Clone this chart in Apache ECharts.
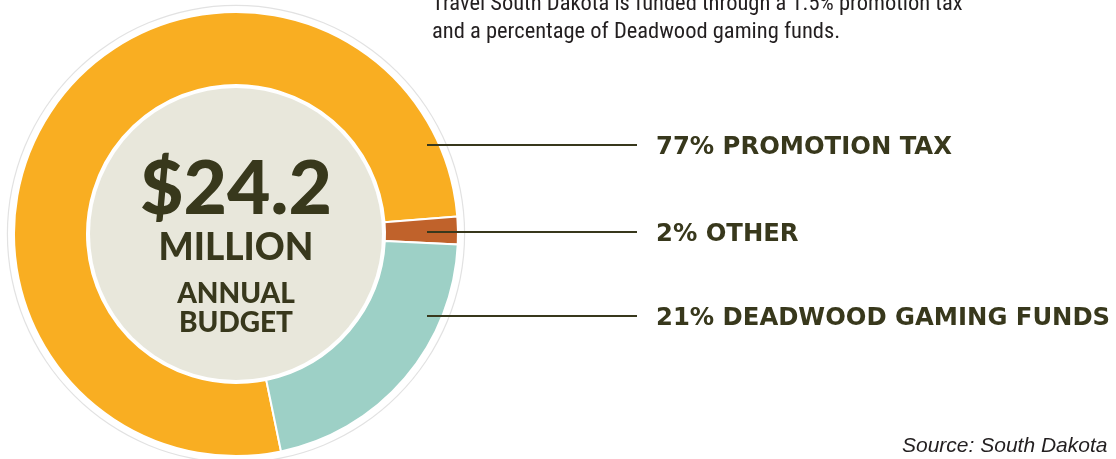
<!DOCTYPE html>
<html>
<head>
<meta charset="utf-8">
<style>
  html, body { margin: 0; padding: 0; background: #ffffff; }
  #chart { width: 1116px; height: 459px; }
</style>
<script src="https://cdn.jsdelivr.net/npm/echarts@6/dist/echarts.min.js"></script>
</head>
<body>
<div id="chart"></div>
<script>
// ---- data ----
const categories = ['PROMOTION TAX', 'OTHER', 'DEADWOOD GAMING FUNDS'];
const shares = [77, 2, 21];
const colors = ['#F9AE22', '#C0622B', '#9DD0C6'];
const labelRows = [145, 232, 316];
const totalText = '$24.2';
const totalUnit = 'MILLION';
const totalCaption = ['ANNUAL', 'BUDGET'];
const introLines = [
  'Travel South Dakota is funded through a 1.5% promotion tax',
  'and a percentage of Deadwood gaming funds.'
];
const sourceText = 'Source: South Dakota';

const ink = '#38381C';
const centerFont = 'Lato, "Open Sans", sans-serif';
const labelFont = '"DejaVu Sans", sans-serif';
const introFont = '"Liberation Sans Narrow", "Roboto Condensed", Roboto, sans-serif';
const CX = 236, CY = 234;

const chart = echarts.init(document.getElementById('chart'), null, { renderer: 'canvas' });

const leaderLines = labelRows.map(function (y) {
  return {
    type: 'line',
    silent: true,
    z: 10,
    shape: { x1: CX + 191, y1: y, x2: 637, y2: y },
    style: { stroke: ink, lineWidth: 2 }
  };
});

chart.setOption({
  backgroundColor: '#ffffff',
  animation: false,
  graphic: [
    { type: 'text', left: 432, top: -7, style: { text: introLines[0], font: '400 22.5px ' + introFont, fill: '#231f20' } },
    { type: 'text', left: 432, top: 21, style: { text: introLines[1], font: '400 22.5px ' + introFont, fill: '#231f20' } },
    { type: 'text', left: 902, top: 436, style: { text: sourceText, font: 'italic 400 21px "Liberation Sans", Arial, sans-serif', fill: '#231f20' } }
  ].concat(leaderLines),
  series: [
    {
      type: 'pie',
      silent: true,
      center: [CX, CY],
      radius: [228, 229.2],
      label: { show: false },
      labelLine: { show: false },
      itemStyle: { color: '#e2e2e2' },
      data: [{ value: 1, name: 'outline' }]
    },
    {
      type: 'pie',
      silent: true,
      center: [CX, CY],
      radius: [0, 146],
      label: {
        show: true,
        position: 'center',
        padding: [30, 0, 0, 0],
        formatter: ['{big|' + totalText + '}', '{mid|' + totalUnit + '}', '{sm|' + totalCaption[0] + '}', '{sm|' + totalCaption[1] + '}'].join('\n'),
        rich: {
          big: { fontFamily: centerFont, fontWeight: 900, fontSize: 75, color: ink, lineHeight: 57 },
          mid: { fontFamily: centerFont, fontWeight: 900, fontSize: 37, color: ink, lineHeight: 61 },
          sm: { fontFamily: centerFont, fontWeight: 900, fontSize: 28, color: ink, lineHeight: 29 }
        }
      },
      labelLine: { show: false },
      itemStyle: { color: '#E8E7DB' },
      data: [{ value: 1, name: 'center' }]
    },
    {
      type: 'pie',
      silent: true,
      center: [CX, CY],
      radius: [149, 222],
      startAngle: -78.3,
      clockwise: true,
      avoidLabelOverlap: false,
      itemStyle: { borderColor: '#ffffff', borderWidth: 2 },
      label: {
        show: true,
        overflow: 'none',
        formatter: function (p) { return p.value + '% ' + p.name; },
        fontFamily: labelFont,
        fontWeight: 'bold',
        fontSize: 24.3,
        color: ink
      },
      labelLine: { show: false },
      labelLayout: function (params) {
        return {
          x: 656,
          y: labelRows[params.dataIndex] + 3,
          align: 'left',
          verticalAlign: 'middle',
          hideOverlap: false,
          moveOverlap: null
        };
      },
      data: categories.map(function (c, i) {
        return { name: c, value: shares[i], itemStyle: { color: colors[i] } };
      })
    }
  ]
});
</script>
</body>
</html>
